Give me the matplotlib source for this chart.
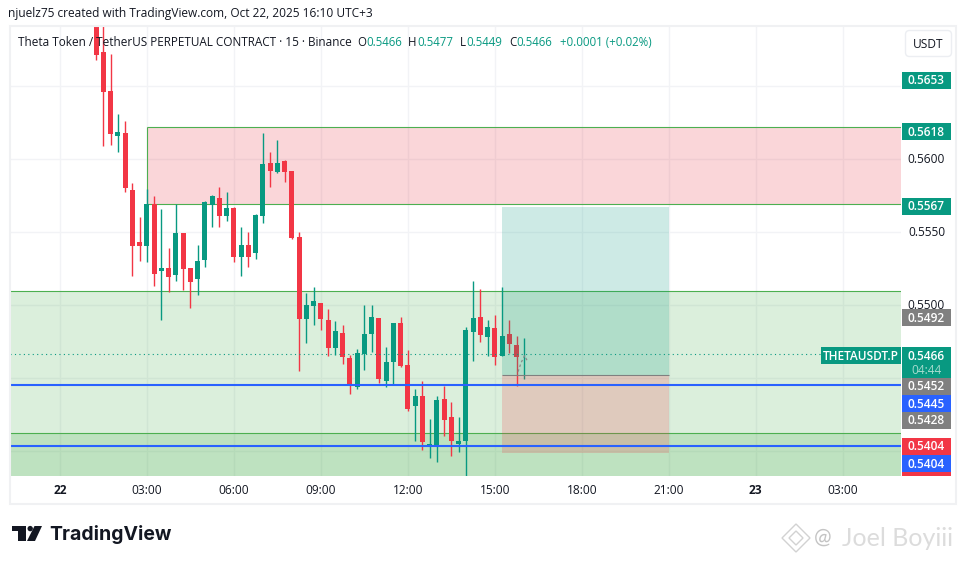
import matplotlib
matplotlib.use('Agg')
import matplotlib.pyplot as plt
from matplotlib.patches import Rectangle, Polygon, Circle, FancyBboxPatch

# candles, 15 min bars counted from 22 Oct 00:00
first_bar = 5
opens = [.5700, .56729, .56462, .56154, .56175, .55784, .55428, .55401, .55688, .55229,
         .5525, .55202, .5549, .5525, .55175, .55305, .55682, .55729, .55606, .55661,
         .55325, .55408, .55353, .55606, .55969, .55908, .55983, .55914, .55463, .54901,
         .5499, .5501, .54894, .54702, .54805, .54634, .54437, .54661, .54798, .54908,
         .54476, .54606, .54873, .54586, .54305, .54373, .54031, .54031, .54353, .54229,
         .54045, .54065, .54812, .54914, .54777, .54839, .54647, .54798, .54723, .5466]
highs = [.5710, .5695, .56716, .56305, .56257, .55832, .55599, .55791, .55743, .55654,
         .55387, .55688, .5549, .5525, .55408, .55709, .5575, .55805, .55771, .55668,
         .55531, .55497, .5562, .56175, .56045, .56127, .5599, .55914, .55497, .55079,
         .5512, .5501, .54969, .54887, .5486, .54654, .54695, .54997, .54997, .54908,
         .54709, .54873, .54914, .54688, .54421, .54476, .54216, .54373, .54442, .54332,
         .54229, .54846, .55161, .55106, .54894, .54928, .5512, .54894, .54784, .5477]
lows = [.56675, .56086, .56092, .56045, .55771, .55195, .55298, .55291, .55127, .54894,
        .55086, .55161, .55099, .54976, .55065, .55257, .55531, .55531, .55572, .55291,
        .55195, .55257, .55312, .55558, .55805, .55901, .55839, .55449, .54547, .54736,
        .5486, .54825, .54647, .54654, .54592, .54387, .54421, .54551, .54675, .54462,
        .54435, .54449, .54572, .5427, .54065, .54003, .53949, .53921, .54099, .53962,
        .5399, .53825, .54613, .54743, .54647, .54586, .54647, .54668, .54442, .5449]
closes = [.56711, .56458, .56168, .56182, .5580, .55401, .55401, .55688, .55209, .5525,
          .55188, .5549, .55243, .55154, .55298, .55702, .55743, .55606, .55661, .55325,
          .55408, .55325, .55613, .55962, .55914, .55969, .55908, .55455, .54901, .54997,
          .55024, .54901, .54702, .54818, .5464, .54444, .54668, .54798, .54914, .5449,
          .54606, .54873, .54579, .54284, .54373, .54058, .54045, .54346, .54209, .54065,
          .54065, .54825, .54908, .54791, .54846, .5464, .54784, .54729, .54638, .5466]

x_tick_bars = [0, 12, 24, 36, 48, 60, 72, 84, 96, 108]
x_tick_labels = ['22', '03:00', '06:00', '09:00', '12:00', '15:00', '18:00', '21:00', '23', '03:00']
y_ticks = [.5400, .5450, .5500, .5550, .5600, .5650]
y_tick_labels = ['0.5500', '0.5550', '0.5600']

# zones drawn on the chart (price top, price bottom)
supply_zone = [.56216, .55686]
demand_zone = [.55092, .5300]
demand_inner = [.54123, .5300]
blue_levels = [.54449, .54031]
last_price = .5466
pos_bars = [61, 84]
pos_prices = [.55668, .54514, .53983]
scribble_bars = [63.2, 63.6, 64.1, 64.5]
scribble_prices = [.5454, .5460, .5465, .5461]

# price tags on the right: text, top pixel, colour
tags = [('0.5653', 72, '#089981'), ('0.5618', 123, '#089981'), ('0.5567', 198, '#089981'),
        ('0.5492', 309, '#808080'), ('0.5452', 378, '#808080'), ('0.5445', 395, '#2962ff'),
        ('0.5428', 412, '#808080'), ('0.5404', 438, '#f23645'), ('0.5404', 455, '#2962ff')]

GREEN = '#089981'
RED = '#f23645'
ZONE = '#4caf50'
INK = '#131722'
FONT = ['Open Sans', 'DejaVu Sans']
plt.rcParams['font.family'] = FONT

fig = plt.figure(figsize=(9.65, 5.64), dpi=100)
W, H = 965., 564.
left, right, top, bottom = 10., 901., 27., 476.
ax = fig.add_axes([left / W, 1 - bottom / H, (right - left) / W, (bottom - top) / H])

# 87 px for 12 bars, bar 0 at x=59.9; 73 px per 0.005, 0.56 at y=158.5
bar_px = 87 / 12.
x0 = 59.9
ax.set_xlim((left - x0) / bar_px, (right - x0) / bar_px)
ax.set_ylim(.56 - (bottom - 158.5) / 14600, .56 - (top - 158.5) / 14600)
ax.set_xticks(x_tick_bars)
ax.set_yticks(y_ticks)
ax.set_xticklabels([])
ax.set_yticklabels([])
ax.tick_params(length=0)
ax.grid(color='#f2f3f6', lw=1)
ax.set_axisbelow(True)
for s in ax.spines.values():
    s.set_visible(False)
xl = ax.get_xlim()

# zones
ax.add_patch(Rectangle((12, supply_zone[1]), xl[1] - 12, supply_zone[0] - supply_zone[1],
                       fc='#e63241', alpha=.2, lw=0, zorder=1))
ax.hlines(supply_zone, 12, xl[1], color=ZONE, lw=.8, zorder=1.5)
ax.vlines(12, supply_zone[1], supply_zone[0], color=ZONE, lw=.8, zorder=1.5)
for z in [demand_zone, demand_inner]:
    ax.add_patch(Rectangle((xl[0], z[1]), xl[1] - xl[0], z[0] - z[1], fc=ZONE, alpha=.2, lw=0, zorder=1))
    ax.hlines(z[0], xl[0], xl[1], color=ZONE, lw=.8, zorder=1.5)

# candles
for i in range(len(opens)):
    b = first_bar + i
    col = GREEN if closes[i] >= opens[i] else RED
    ax.vlines(b, lows[i], highs[i], color=col, lw=1.0, zorder=3)
    ax.bar(b, abs(closes[i] - opens[i]), .7, min(opens[i], closes[i]), color=col, lw=0, zorder=3)

# long/short position box
ax.add_patch(Rectangle((pos_bars[0], pos_prices[1]), pos_bars[1] - pos_bars[0], pos_prices[0] - pos_prices[1],
                       fc=GREEN, alpha=.2, lw=0, zorder=4))
ax.add_patch(Rectangle((pos_bars[0], pos_prices[2]), pos_bars[1] - pos_bars[0], pos_prices[1] - pos_prices[2],
                       fc=RED, alpha=.2, lw=0, zorder=4))
ax.hlines(pos_prices[1], pos_bars[0], pos_bars[1], color='#808080', lw=.8, zorder=4.5)

ax.hlines(blue_levels, xl[0], xl[1], color='#2962ff', lw=1.5, zorder=5)
ax.hlines(last_price, xl[0], xl[1], color=GREEN, lw=.8, linestyles=(0, (1, 3)), zorder=5)
ax.plot(scribble_bars, scribble_prices, color='#8a8a8a', lw=.9, ls=(0, (2, 2)), zorder=5)

# overlay in pixels for the page furniture
ov = fig.add_axes([0, 0, 1, 1], facecolor='none')
ov.set_xlim(0, W)
ov.set_ylim(H, 0)
ov.axis('off')
ov.add_patch(Rectangle((9.5, 25.5), 946, 478, fc='none', ec='#f0f1f3', lw=1.5))


def tag(x0, y0, w, h, txt, col, tc='white', fw='normal'):
    ov.add_patch(Rectangle((x0, y0), w, h, fc=col, lw=0))
    ov.text(x0 + w / 2., y0 + h / 2. + .5, txt, color=tc, ha='center', va='center', fontsize=8.6, fontweight=fw)


for txt, y0, col in tags:
    tag(902, y0, 49, 17, txt, col, fw='semibold')
ov.add_patch(Rectangle((902, 472), 49, 4, fc=RED, lw=0))
ov.add_patch(Rectangle((902, 347), 49, 31, fc=GREEN, lw=0))
ov.text(926.5, 356, '0.5466', color='white', ha='center', va='center', fontsize=8.6, fontweight='semibold')
ov.text(926.5, 370, '04:44', color='#a8dccf', ha='center', va='center', fontsize=8.6)
tag(821, 347, 80, 17, 'THETAUSDT.P', GREEN, fw='semibold')

for lab, y in zip(y_tick_labels, [305.5, 232.5, 159.5]):
    ov.text(926.5, y, lab, color=INK, ha='center', va='center', fontsize=8.6)
for b, lab in zip(x_tick_bars, x_tick_labels):
    ov.text(59.8 + b * bar_px, 490, lab, color=INK, ha='center', va='center', fontsize=8.6,
            fontweight='bold' if len(lab) == 2 else 'normal')

ov.add_patch(FancyBboxPatch((905.5, 30.5), 46, 26, boxstyle='round,pad=0,rounding_size=4', fc='white', ec='#eceef2', lw=1))
ov.text(928.5, 44, 'USDT', color=INK, ha='center', va='center', fontsize=8.6)

# header and legend
ov.text(8, 14, 'njuelz75 created with TradingView.com, Oct 22, 2025 16:10 UTC+3', color=INK, va='center', fontsize=8.6)
ov.text(18, 42, 'Theta Token / TetherUS PERPETUAL CONTRACT · 15 · Binance', color=INK, va='center', fontsize=8.45)
for px, lab in zip([357, 408, 460, 509], 'OHLC'):
    ov.text(px, 42, lab, color=INK, va='center', fontsize=8.3)
for px, lab in zip([366, 417, 466, 516, 560], ['0.5466', '0.5477', '0.5449', '0.5466', '+0.0001 (+0.02%)']):
    ov.text(px, 42, lab, color=GREEN, va='center', fontsize=8.3)

# logo
ov.add_patch(Polygon([(12, 526), (26, 526), (26, 541), (18, 541), (18, 531), (12, 531)], fc=INK, lw=0))
ov.add_patch(Circle((30.2, 528.6), 2.7, fc=INK, lw=0))
ov.add_patch(Polygon([(34.5, 526), (42, 526), (35, 541), (27, 541)], fc=INK, lw=0))
ov.text(49, 534, 'TradingView', color=INK, va='center', fontsize=14, fontweight='bold',
        fontfamily=['Inter', 'DejaVu Sans'])

# watermark
wm = '#d2d2d2'
ov.add_patch(Polygon([(796, 524), (810, 538), (796, 552), (782, 538)], fc='none', ec=wm, lw=1))
ov.add_patch(Polygon([(796, 531), (803, 538), (796, 545), (789, 538)], fc='none', ec=wm, lw=1))
ov.text(814, 538, '@', color='#c4c4c4', va='center', fontsize=15, fontfamily=['Lato', 'DejaVu Sans'])
ov.text(842, 538, 'Joel Boyiii', color='#dcdcdc', va='center', fontsize=18, fontfamily=['Lato', 'DejaVu Sans'])

fig.savefig('out.png', dpi=100, facecolor='white')
